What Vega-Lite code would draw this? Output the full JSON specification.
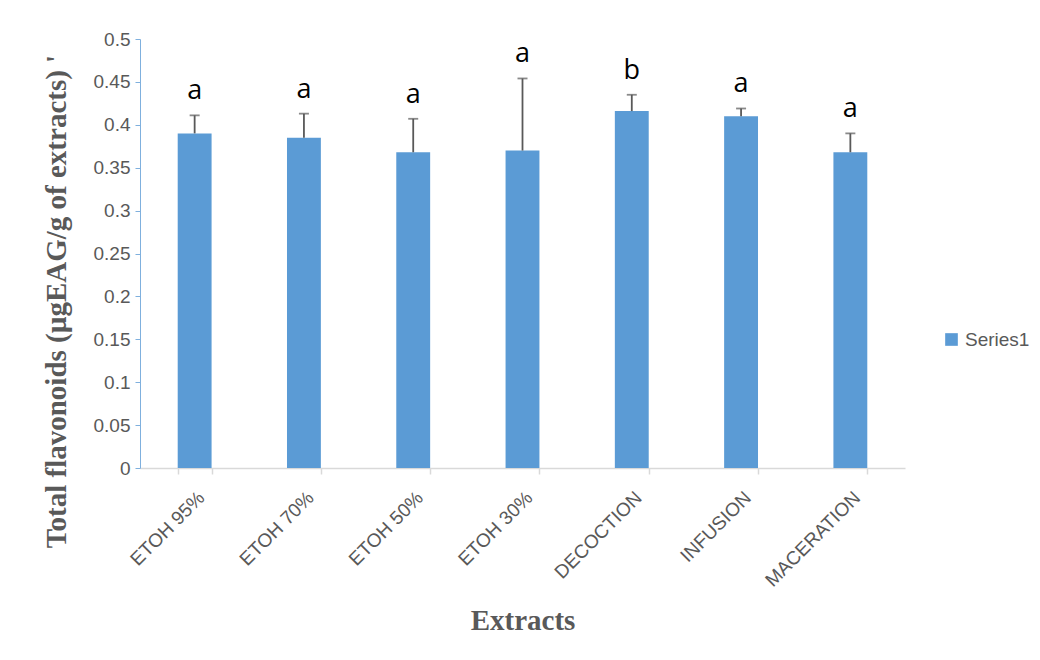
{
  "$schema": "https://vega.github.io/schema/vega-lite/v6.json",
  "autosize": {"type": "none"},
  "width": 765,
  "height": 429,
  "padding": {"left": 140, "top": 39, "right": 135, "bottom": 192},
  "background": "white",
  "config": {"view": {"stroke": null}, "font": "Liberation Sans"},
  "data": {
    "values": [
      {"extract": "ETOH 95%", "value": 0.390, "upper": 0.411, "letter": "a", "series": "Series1"},
      {"extract": "ETOH 70%", "value": 0.385, "upper": 0.413, "letter": "a", "series": "Series1"},
      {"extract": "ETOH 50%", "value": 0.368, "upper": 0.407, "letter": "a", "series": "Series1"},
      {"extract": "ETOH 30%", "value": 0.370, "upper": 0.454, "letter": "a", "series": "Series1"},
      {"extract": "DECOCTION", "value": 0.416, "upper": 0.435, "letter": "b", "series": "Series1"},
      {"extract": "INFUSION", "value": 0.410, "upper": 0.419, "letter": "a", "series": "Series1"},
      {"extract": "MACERATION", "value": 0.368, "upper": 0.390, "letter": "a", "series": "Series1"}
    ]
  },
  "encoding": {
    "x": {
      "field": "extract",
      "type": "nominal",
      "sort": null,
      "scale": {"paddingInner": 0.69, "paddingOuter": 0.345},
      "axis": {
        "title": "Extracts",
        "titleFont": "Liberation Serif",
        "titleFontSize": 29,
        "titleFontWeight": "bold",
        "titleColor": "#595959",
        "titleY": 152,
        "titleBaseline": "middle",
        "labelAngle": -45,
        "labelFont": "Liberation Sans",
        "labelFontSize": 19,
        "labelColor": "#595959",
        "labelPadding": 14,
        "domainColor": "#d9d9d9",
        "domainWidth": 1.5,
        "tickColor": "#d9d9d9",
        "tickWidth": 1.5,
        "tickSize": 6,
        "tickBand": "extent",
        "grid": false
      }
    }
  },
  "layer": [
    {
      "mark": {"type": "bar", "color": "#5B9BD5"},
      "encoding": {
        "y": {
          "field": "value",
          "type": "quantitative",
          "scale": {"domain": [0, 0.5], "nice": false},
          "axis": {
            "title": "Total flavonoids (µgEAG/g of extracts) '",
            "titleFont": "Liberation Serif",
            "titleFontSize": 29,
            "titleFontWeight": "bold",
            "titleColor": "#595959",
            "titleAngle": -90,
            "titleX": -84,
            "titleY": 262,
            "titleAlign": "center",
            "titleBaseline": "middle",
            "values": [0, 0.05, 0.1, 0.15, 0.2, 0.25, 0.3, 0.35, 0.4, 0.45, 0.5],
            "format": ".2~f",
            "labelFont": "Liberation Sans",
            "labelFontSize": 19,
            "labelColor": "#595959",
            "labelPadding": 5,
            "domainColor": "#7fb0de",
            "tickColor": "#7fb0de",
            "tickSize": 5,
            "grid": false
          }
        },
        "color": {
          "field": "series",
          "type": "nominal",
          "scale": {"range": ["#5B9BD5"]},
          "legend": {
            "title": null,
            "orient": "none",
            "legendX": 802,
            "legendY": 291,
            "symbolType": "square",
            "symbolSize": 160,
            "symbolStrokeWidth": 0,
            "labelFont": "Liberation Sans",
            "labelFontSize": 19,
            "labelColor": "#595959"
          }
        }
      }
    },
    {
      "mark": {"type": "rule", "color": "#595959", "strokeWidth": 1.8},
      "encoding": {
        "y": {"field": "value", "type": "quantitative"},
        "y2": {"field": "upper"}
      }
    },
    {
      "mark": {"type": "tick", "color": "#595959", "thickness": 1.8, "size": 10},
      "encoding": {
        "y": {"field": "upper", "type": "quantitative"}
      }
    },
    {
      "mark": {"type": "text", "fontSize": 27, "color": "#000000", "baseline": "bottom", "dy": -10, "font": "Open Sans"},
      "encoding": {
        "y": {"field": "upper", "type": "quantitative"},
        "text": {"field": "letter"}
      }
    }
  ]
}
